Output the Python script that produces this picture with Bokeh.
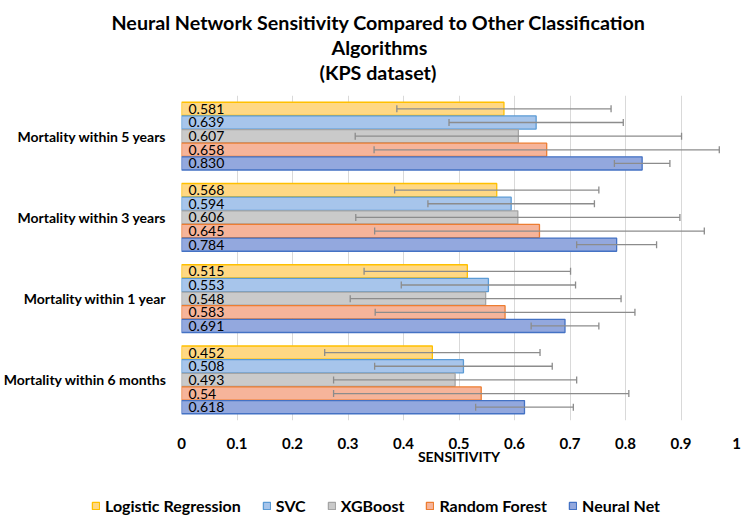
from bokeh.plotting import figure
from bokeh.layouts import column
from bokeh.models import (ColumnDataSource, FactorRange, Range1d, FixedTicker,
                          CustomJSTickFormatter, Legend, LegendItem, Title)
from bokeh.transform import dodge
from bokeh.core.properties import value
from bokeh.embed import file_html
from bokeh.resources import INLINE
import numpy as np

# Outcome categories, listed top to bottom
categories = ["Mortality within 5 years", "Mortality within 3 years",
              "Mortality within 1 year", "Mortality within 6 months"]

# Sensitivity per model (as printed on the bars) and error-bar half widths
logistic_labels = ["0.581", "0.568", "0.515", "0.452"]
logistic_err = [0.193, 0.184, 0.186, 0.194]
svc_labels = ["0.639", "0.594", "0.553", "0.508"]
svc_err = [0.157, 0.150, 0.157, 0.160]
xgb_labels = ["0.607", "0.606", "0.548", "0.493"]
xgb_err = [0.294, 0.292, 0.244, 0.219]
rf_labels = ["0.658", "0.645", "0.583", "0.54"]
rf_err = [0.311, 0.297, 0.234, 0.266]
nn_labels = ["0.830", "0.784", "0.691", "0.618"]
nn_err = [0.050, 0.072, 0.061, 0.088]

x_ticks = [0, 0.1, 0.2, 0.3, 0.4, 0.5, 0.6, 0.7, 0.8, 0.9, 1]

title_lines = ["Neural Network Sensitivity Compared to Other Classification",
               "Algorithms", "(KPS dataset)"]

models = [
    ("Logistic Regression", logistic_labels, logistic_err, "#FFD884", "#FFC000"),
    ("SVC", svc_labels, svc_err, "#A7C5EB", "#5B9BD5"),
    ("XGBoost", xgb_labels, xgb_err, "#CACACA", "#A5A5A5"),
    ("Random Forest", rf_labels, rf_err, "#F6B49A", "#ED7D31"),
    ("Neural Net", nn_labels, nn_err, "#93A8DE", "#4472C4"),
]

FONT = value("Lato")

p = figure(frame_width=555, frame_height=325, output_backend="svg",
           toolbar_location=None,
           y_range=FactorRange(factors=list(reversed(categories))),
           x_range=Range1d(0, 1),
           min_border_left=180, min_border_right=15, min_border_top=95,
           min_border_bottom=62)
p.outline_line_color = None
p.frame_align = False

# three-line title: p.title is the outermost line, added titles stack outward;
# left-aligned with per-line offsets so each line sits centred on the page
p.title.text = title_lines[0]
for line in reversed(title_lines[1:]):
    p.add_layout(Title(text=line), "above")
title_models = {t.text: t for t in [p.title] + [a for a in p.above if isinstance(a, Title)]}
title_offsets = {title_lines[0]: -70, title_lines[1]: 150, title_lines[2]: 138}
for txt, t in title_models.items():
    t.align = "left"
    t.offset = title_offsets[txt]
    t.text_font = "Lato"
    t.text_font_size = "19.7px"
    t.text_font_style = "bold"
    t.text_color = "#000000"
    t.standoff = 0
title_models[title_lines[2]].padding = dict(left=0, right=0, top=0, bottom=12)

bar_h = 0.168
offsets = [2 * bar_h, bar_h, 0.0, -bar_h, -2 * bar_h]

for (name, labels, errs, fill, line), off in zip(models, offsets):
    vals = [float(s) for s in labels]
    src = ColumnDataSource(dict(
        cat=categories, val=vals, label=labels,
        lo=[v - e for v, e in zip(vals, errs)],
        hi=[v + e for v, e in zip(vals, errs)],
    ))
    ydod = dodge("cat", off, range=p.y_range)
    p.hbar(y=ydod, right="val", left=0, height=bar_h * 0.96, source=src,
           fill_color=fill, line_color=line, line_width=1.3)
    p.text(x=0, y=ydod, text="label", source=src, x_offset=7,
           text_baseline="middle", text_align="left", text_font=FONT,
           text_font_size="14px", text_color="#000000")
    p.segment(x0="lo", x1="hi", y0=ydod, y1=ydod, source=src,
              line_color="#8C8C8C", line_width=1.3)
    for end in ("lo", "hi"):
        p.scatter(x=end, y=ydod, source=src, marker="dash", angle=np.pi / 2,
                  size=7, line_color="#8C8C8C", line_width=1.3)

# axes
p.xaxis.ticker = FixedTicker(ticks=x_ticks)
p.xaxis.formatter = CustomJSTickFormatter(
    code="return tick.toFixed(1).replace(/\\.0$/, '');")
p.xaxis.axis_line_color = None
p.xaxis.major_tick_line_color = None
p.xaxis.minor_tick_line_color = None
p.xaxis.major_label_text_font = "Lato"
p.xaxis.major_label_text_font_size = "15px"
p.xaxis.major_label_text_font_style = "bold"
p.xaxis.major_label_text_color = "#000000"
p.xaxis.major_label_standoff = 11
p.xaxis.axis_label = "SENSITIVITY"
p.xaxis.axis_label_text_font = "Lato"
p.xaxis.axis_label_text_font_size = "14px"
p.xaxis.axis_label_text_font_style = "bold"
p.xaxis.axis_label_text_color = "#000000"
p.xaxis.axis_label_standoff = -4

p.yaxis.axis_line_color = None
p.yaxis.major_tick_line_color = None
p.yaxis.minor_tick_line_color = None
p.yaxis.major_label_text_font = "Lato"
p.yaxis.major_label_text_font_size = "14px"
p.yaxis.major_label_text_font_style = "bold"
p.yaxis.major_label_text_color = "#000000"
p.yaxis.major_label_standoff = 9

p.xgrid.grid_line_color = "#D9D9D9"
p.xgrid.grid_line_width = 1
p.ygrid.grid_line_color = None

# legend strip underneath the chart; its swatch renderers sit outside the
# visible y range so only the legend itself shows
lg = figure(width=750, height=39, output_backend="svg", toolbar_location=None,
            x_axis_location=None, y_axis_location=None, min_border=0,
            x_range=Range1d(0, 1), y_range=Range1d(0, 1))
lg.frame_align = False
lg.outline_line_color = None
lg.xgrid.visible = False
lg.ygrid.visible = False
items = []
for name, labels, errs, fill, line in models:
    r = lg.hbar(y=[-5], right=[0], left=0, height=1, fill_color=fill,
                line_color=line, line_width=1.3)
    items.append(LegendItem(label=name, renderers=[r]))
legend = Legend(items=items, orientation="horizontal", location=(91, 6),
                label_text_font="Lato", label_text_font_size="16px",
                label_text_font_style="bold", label_text_color="#000000",
                glyph_width=9, glyph_height=9, label_standoff=5, spacing=21,
                border_line_color=None, background_fill_alpha=0,
                padding=2, margin=0)
lg.add_layout(legend, "center")

layout = column(p, lg, spacing=0)
open("out.html", "w").write(file_html(layout, INLINE))
